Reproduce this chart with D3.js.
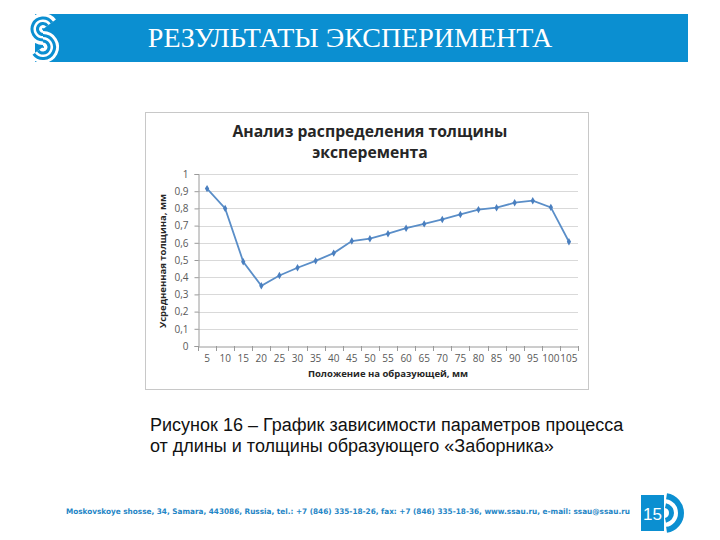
<!DOCTYPE html>
<html><head><meta charset="utf-8">
<script src="https://cdn.jsdelivr.net/npm/d3@7"></script>
<style>body{margin:0;background:#fff}svg{display:block}</style>
</head><body>
<script>
const positions = ["5","10","15","20","25","30","35","40","45","50","55","60","65","70","75","80","85","90","95","100","105"];
const thickness = [0.915,0.80,0.49,0.35,0.41,0.455,0.495,0.54,0.61,0.624,0.653,0.685,0.71,0.736,0.765,0.793,0.804,0.833,0.845,0.806,0.606];
const yTicks = [0,0.1,0.2,0.3,0.4,0.5,0.6,0.7,0.8,0.9,1];
const yTickLabels = ["0","0,1","0,2","0,3","0,4","0,5","0,6","0,7","0,8","0,9","1"];
const chartTitle = ["Анализ распределения толщины","эксперемента"];
const xTitle = "Положение на образующей, мм";
const yTitle = "Усредненная толщина, мм";
const slideTitle = "РЕЗУЛЬТАТЫ ЭКСПЕРИМЕНТА";
const caption = ["Рисунок 16 – График зависимости параметров процесса","от длины и толщины образующего «Заборника»"];
const footer = "Moskovskoye shosse, 34, Samara, 443086, Russia, tel.: +7 (846) 335-18-26, fax: +7 (846) 335-18-36, www.ssau.ru, e-mail: ssau@ssau.ru";
const pageNum = "15";

const W=720,H=540, blue="#0b8fd1";
const svg=d3.select("body").append("svg").attr("width",W).attr("height",H);

// header bar
svg.append("rect").attr("x",35).attr("y",14).attr("width",653).attr("height",48).attr("fill",blue);
// logo: double-lined S
function sPath(r1,r2){
  const p=d3.path();
  const cx=43, cy1=29, cy2=47;
  p.moveTo(cx+r1*Math.cos(-Math.PI/5), cy1+r1*Math.sin(-Math.PI/5));
  p.arc(cx,cy1,r1,-Math.PI/5,Math.PI/2,true);
  p.moveTo(cx, cy2-r2);
  p.arc(cx,cy2,r2,-Math.PI/2,Math.PI*0.8,false);
  return p.toString();
}
const logo=svg.append("g");
logo.append("path").attr("d",sPath(8.5,8.5)).attr("fill","none").attr("stroke","#fff").attr("stroke-width",15);
logo.append("path").attr("d",sPath(11,6)).attr("fill","none").attr("stroke",blue).attr("stroke-width",3);
logo.append("path").attr("d",sPath(5.5,11.5)).attr("fill","none").attr("stroke",blue).attr("stroke-width",3);

svg.append("text").attr("x",350).attr("y",47).attr("text-anchor","middle")
  .attr("font-family","Liberation Serif, serif").attr("font-size",28).attr("fill","#fff").text(slideTitle);

// chart frame
svg.append("rect").attr("x",145.5).attr("y",112.5).attr("width",443).attr("height",277).attr("fill","#fff").attr("stroke","#c8c8c8");

const x=d3.scaleBand().domain(positions).range([198,578]);
const y=d3.scaleLinear().domain([0,1]).range([346,174]);

// gridlines
svg.append("g").selectAll("line").data(yTicks.slice(1)).join("line")
  .attr("x1",198).attr("x2",578).attr("y1",d=>Math.round(y(d))+0.5).attr("y2",d=>Math.round(y(d))+0.5)
  .attr("stroke","#d9d9d9");

// y axis
const ya=svg.append("g").attr("transform","translate(198.5,0)")
  .call(d3.axisLeft(y).tickValues(yTicks).tickFormat((d,i)=>yTickLabels[i]).tickSize(4).tickPadding(6));
ya.select(".domain").attr("stroke","#9a9a9a");
ya.selectAll(".tick line").attr("stroke","#9a9a9a");
ya.selectAll("text").attr("font-family","Open Sans, sans-serif").attr("font-size",10).attr("fill","#595959");

// x axis
const xa=svg.append("g").attr("transform","translate(0,346.5)")
  .call(d3.axisBottom(x).tickSize(0).tickPadding(8));
xa.select(".domain").attr("stroke","#9a9a9a");
xa.selectAll("text").attr("font-family","Open Sans, sans-serif").attr("font-size",10).attr("fill","#595959");
svg.append("g").selectAll("line").data(positions.concat(["end"])).join("line")
  .attr("x1",(d,i)=>Math.round(198+i*x.bandwidth())+0.5).attr("x2",(d,i)=>Math.round(198+i*x.bandwidth())+0.5)
  .attr("y1",346).attr("y2",351).attr("stroke","#9a9a9a");

// line
const line=d3.line().x((d,i)=>x(positions[i])+x.bandwidth()/2).y(d=>y(d));
svg.append("path").datum(thickness).attr("d",line).attr("fill","none").attr("stroke","#5a8ec8").attr("stroke-width",1.8);
svg.append("g").selectAll("path").data(thickness).join("path")
  .attr("d",d3.symbol(d3.symbolDiamond,16)())
  .attr("transform",(d,i)=>`translate(${x(positions[i])+x.bandwidth()/2},${y(d)})`)
  .attr("fill","#4a7fbf");

// titles
svg.append("g").selectAll("text").data(chartTitle).join("text")
  .attr("x",370).attr("y",(d,i)=>137+i*21).attr("text-anchor","middle")
  .attr("font-family","Open Sans, sans-serif").attr("font-weight","bold").attr("font-size",15.7).attr("fill","#262626").text(d=>d);
svg.append("text").attr("x",388).attr("y",377).attr("text-anchor","middle")
  .attr("font-family","Open Sans, sans-serif").attr("font-weight","bold").attr("font-size",9.5).attr("fill","#262626").text(xTitle);
svg.append("text").attr("transform","translate(166,261) rotate(-90)").attr("text-anchor","middle")
  .attr("font-family","Open Sans, sans-serif").attr("font-weight","bold").attr("font-size",9.5).attr("fill","#262626").text(yTitle);

// caption
svg.append("g").selectAll("text").data(caption).join("text")
  .attr("x",150).attr("y",(d,i)=>431+i*21)
  .attr("font-family","Liberation Sans, Arial, sans-serif").attr("font-size",18).attr("fill","#111").text(d=>d);

// footer
svg.append("text").attr("x",66).attr("y",514).attr("textLength",564).attr("lengthAdjust","spacingAndGlyphs")
  .attr("font-family","DejaVu Sans Condensed, sans-serif").attr("font-weight","bold").attr("font-size",7.6).attr("fill","#1f86c6").text(footer);
svg.append("rect").attr("x",641).attr("y",495).attr("width",23).attr("height",36).attr("fill",blue);
svg.append("text").attr("x",652.5).attr("y",520).attr("text-anchor","middle")
  .attr("font-family","Liberation Sans, sans-serif").attr("font-size",17).attr("fill","#fff").text(pageNum);
const pg=svg.append("g").attr("transform","translate(664,513)");
pg.append("path").attr("d",d3.arc()({innerRadius:5,outerRadius:10,startAngle:0.2,endAngle:Math.PI-0.2})).attr("fill",blue);
pg.append("path").attr("d",d3.arc()({innerRadius:14,outerRadius:20,startAngle:0.15,endAngle:Math.PI-0.15})).attr("fill",blue);
</script>
</body></html>
